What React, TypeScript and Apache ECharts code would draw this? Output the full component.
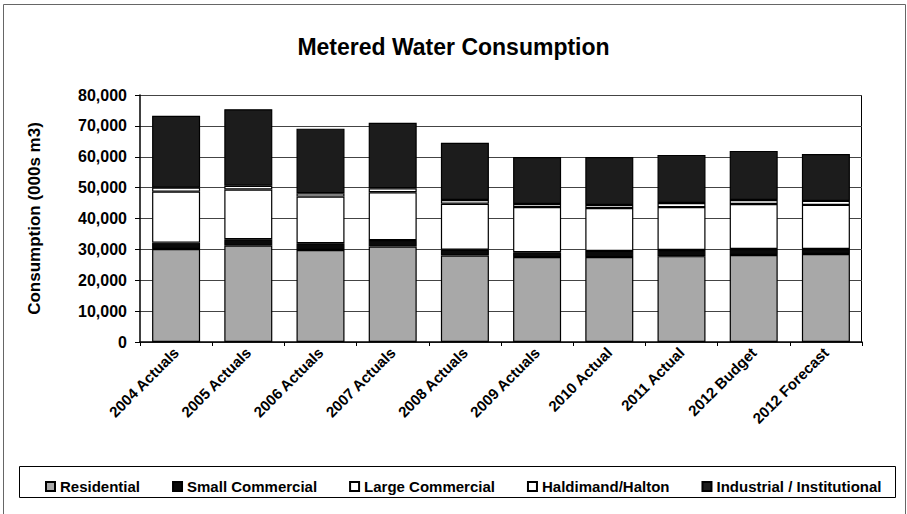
import React, { useEffect, useRef } from "react";
import * as echarts from "echarts";

const categories = [
  "2004 Actuals", "2005 Actuals", "2006 Actuals", "2007 Actuals", "2008 Actuals",
  "2009 Actuals", "2010 Actual", "2011 Actual", "2012 Budget", "2012 Forecast",
];
const residential = [30100, 31200, 29800, 30900, 28000, 27500, 27500, 27800, 28200, 28500];
const smallCommercial = [2100, 2100, 2200, 2100, 1900, 1600, 2000, 2000, 1900, 1600];
const largeCommercial = [16500, 16100, 15100, 15500, 14900, 14600, 13900, 13900, 14600, 14300];
const haldimandHalton = [1300, 1200, 1100, 1300, 1200, 1000, 1000, 1300, 1300, 1300];
const industrial = [23300, 24800, 20900, 21200, 18500, 15200, 15500, 15600, 15900, 15200];
const yTicks = [0, 10000, 20000, 30000, 40000, 50000, 60000, 70000, 80000];

const FONT = "Liberation Sans, Arial, sans-serif";

export default function App() {
  const ref = useRef<HTMLDivElement>(null);
  useEffect(() => {
    if (!ref.current) return;
    const chart = echarts.init(ref.current, null, { renderer: "svg" });
    const mk = (name: string, data: number[], color: string) => ({
      name,
      type: "bar",
      stack: "total",
      data,
      barWidth: 48,
      itemStyle: { color, borderColor: "#000", borderWidth: 1.2 },
      emphasis: { disabled: true },
    });
    chart.setOption({
      animation: false,
      backgroundColor: "#fff",
      title: {
        text: "Metered Water Consumption",
        left: "center",
        top: 30,
        textStyle: { fontFamily: FONT, fontSize: 23, fontWeight: "bold", color: "#000" },
      },
      legend: {
        left: 40,
        top: 474,
        itemWidth: 9,
        itemHeight: 9,
        itemGap: 32,
        icon: "rect",
        textStyle: { fontFamily: FONT, fontSize: 15, fontWeight: "bold", color: "#000" },
        data: ["Residential", "Small Commercial", "Large Commercial", "Haldimand/Halton", "Industrial / Institutional"],
      },
      graphic: [
        { type: "rect", shape: { x: 3.5, y: 4.5, width: 902, height: 520 }, style: { fill: "none", stroke: "#666", lineWidth: 1 }, silent: true, z: -1 },
        { type: "rect", shape: { x: 19.5, y: 466.5, width: 876, height: 31 }, style: { fill: "none", stroke: "#000", lineWidth: 1 }, silent: true },
        { type: "line", shape: { x1: 140, y1: 95.5, x2: 862, y2: 95.5 }, style: { stroke: "#000", lineWidth: 1 }, silent: true },
        { type: "line", shape: { x1: 861.5, y1: 95, x2: 861.5, y2: 342 }, style: { stroke: "#000", lineWidth: 1 }, silent: true },
      ],
      grid: { left: 140, right: 45, top: 95, bottom: 172, containLabel: false },
      xAxis: {
        type: "category",
        data: categories,
        axisLine: { lineStyle: { color: "#000", width: 1.5 } },
        axisTick: { show: true, length: 4, lineStyle: { color: "#000" } },
        axisLabel: {
          rotate: 45,
          margin: 8,
          interval: 0,
          fontFamily: FONT,
          fontSize: 15,
          fontWeight: "bold",
          color: "#000",
          padding: [0, 0, 0, 0],
        },
      },
      yAxis: {
        type: "value",
        min: 0,
        max: 80000,
        interval: 10000,
        name: "Consumption (000s m3)",
        nameLocation: "middle",
        nameGap: 97,
        nameTextStyle: { fontFamily: FONT, fontSize: 17, fontWeight: "bold", color: "#000" },
        axisLine: { show: true, lineStyle: { color: "#000", width: 1.5 } },
        axisTick: { show: true, length: 5, lineStyle: { color: "#000" } },
        splitLine: { lineStyle: { color: "#444", width: 1 } },
        axisLabel: {
          margin: 13,
          fontFamily: FONT,
          fontSize: 16,
          fontWeight: "bold",
          color: "#000",
          formatter: (v: number) => (yTicks.includes(v) ? v.toLocaleString("en-US") : ""),
        },
      },
      series: [
        mk("Residential", residential, "#a8a8a8"),
        mk("Small Commercial", smallCommercial, "#0a0a0a"),
        mk("Large Commercial", largeCommercial, "#ffffff"),
        mk("Haldimand/Halton", haldimandHalton, "#ffffff"),
        mk("Industrial / Institutional", industrial, "#1c1c1c"),
      ],
    });
    return () => chart.dispose();
  }, []);
  return <div ref={ref} style={{ width: 907, height: 514, position: "absolute", left: 0, top: 0 }} />;
}
